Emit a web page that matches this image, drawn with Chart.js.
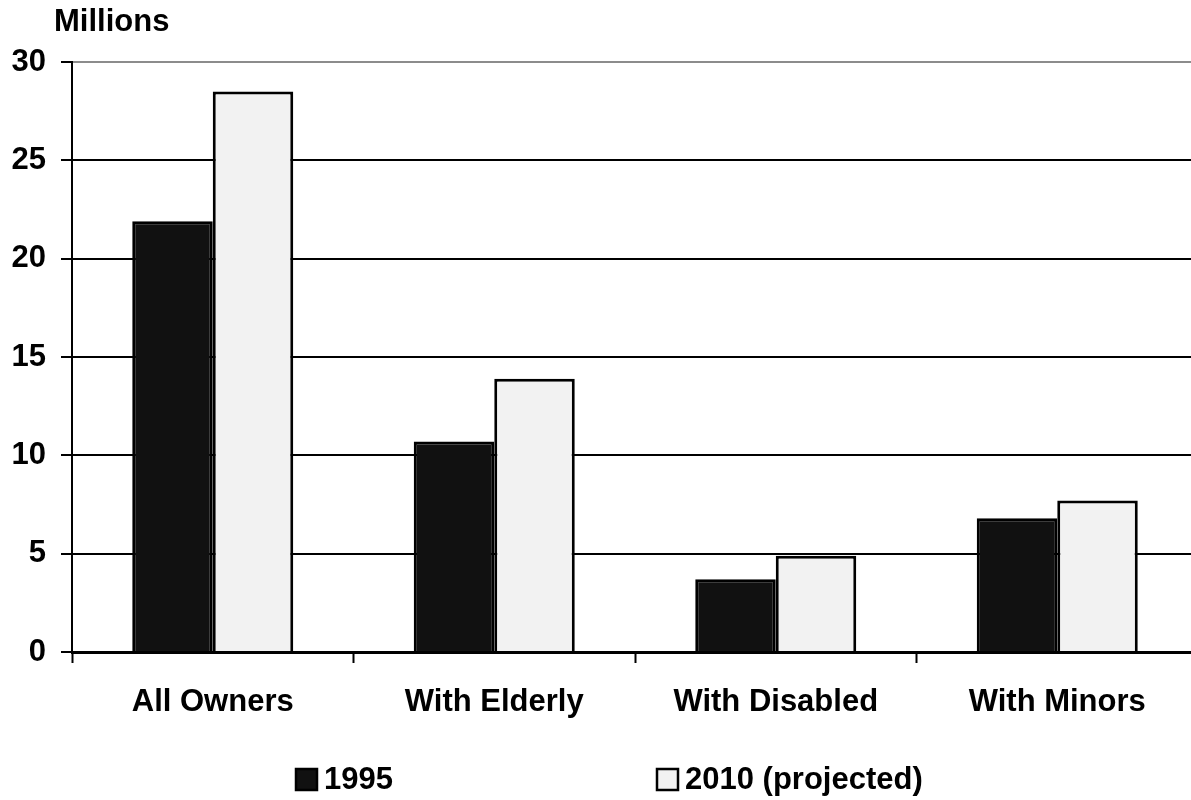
<!DOCTYPE html>
<html>
<head>
<meta charset="utf-8">
<script src="https://cdn.jsdelivr.net/npm/chart.js@4/dist/chart.umd.min.js"></script>
<style>
  html, body { margin: 0; padding: 0; background: #fff; overflow: hidden; }
  #wrap { position: relative; width: 1200px; height: 800px; }
</style>
</head>
<body>
<div id="wrap"><canvas id="c"></canvas></div>
<script>
// Homeowner households, in millions
const categories = ['All Owners', 'With Elderly', 'With Disabled', 'With Minors'];
const values1995 = [21.9, 10.7, 3.7, 6.8];
const values2010 = [28.5, 13.9, 4.9, 7.7];
const seriesLabels = ['1995', '2010 (projected)'];
const yTicks = [0, 5, 10, 15, 20, 25, 30];

const FONT = '"Liberation Sans", Arial, Helvetica, sans-serif';
const fillColors = ['#111111', '#f2f2f2'];

// Unit caption above the value axis and a legend row under the categories
const decorations = {
  id: 'decorations',
  afterDraw(chart) {
    const ctx = chart.ctx;
    ctx.save();
    ctx.fillStyle = '#000';
    ctx.font = 'bold 31px ' + FONT;
    ctx.textBaseline = 'middle';
    ctx.textAlign = 'left';
    ctx.fillText('Millions', 54, 22);

    const items = [
      { x: 296, label: chart.data.datasets[0].label, fill: chart.data.datasets[0].backgroundColor },
      { x: 657, label: chart.data.datasets[1].label, fill: chart.data.datasets[1].backgroundColor }
    ];
    const cy = 779;
    items.forEach(it => {
      ctx.fillStyle = it.fill;
      ctx.fillRect(it.x, cy - 10, 21, 21);
      ctx.strokeStyle = '#000';
      ctx.lineWidth = 2.5;
      ctx.strokeRect(it.x, cy - 10, 21, 21);
      ctx.fillStyle = '#000';
      ctx.font = 'bold 31px ' + FONT;
      ctx.fillText(it.label, it.x + 28, cy + 1);
    });
    ctx.restore();
  }
};

new Chart(document.getElementById('c'), {
  type: 'bar',
  data: {
    labels: categories,
    datasets: [
      {
        label: seriesLabels[0],
        data: values1995,
        backgroundColor: fillColors[0],
        borderColor: '#000',
        borderWidth: 3,
        barPercentage: 1,
        categoryPercentage: 0.572
      },
      {
        label: seriesLabels[1],
        data: values2010,
        backgroundColor: fillColors[1],
        borderColor: '#000',
        borderWidth: 3,
        barPercentage: 1,
        categoryPercentage: 0.572
      }
    ]
  },
  options: {
    responsive: true,
    maintainAspectRatio: false,
    animation: false,
    layout: { padding: { top: 62, right: 2, left: 0, bottom: 0 } },
    plugins: {
      legend: { display: false },
      tooltip: { enabled: false },
      title: { display: false }
    },
    scales: {
      x: {
        offset: true,
        grid: {
          offset: true,
          drawOnChartArea: false,
          drawTicks: true,
          tickLength: 11,
          tickWidth: 2,
          tickColor: '#000'
        },
        border: { display: true, color: '#000', width: 3 },
        ticks: {
          color: '#000',
          padding: 21,
          font: { family: FONT, size: 31, weight: 'bold' },
          maxRotation: 0
        },
        afterFit(scale) { scale.height = 148; }
      },
      y: {
        min: 0,
        max: 30,
        afterBuildTicks(scale) { scale.ticks = yTicks.map(v => ({ value: v })); },
        grid: {
          color: ctx => (ctx.tick && ctx.tick.value === 30 ? '#8c8c8c' : '#000'),
          lineWidth: 2,
          drawTicks: true,
          tickLength: 11,
          tickColor: '#000'
        },
        border: { display: true, color: '#000', width: 2 },
        ticks: {
          color: '#000',
          padding: 15,
          font: { family: FONT, size: 31, weight: 'bold' }
        },
        afterFit(scale) { scale.width = 72; }
      }
    }
  },
  plugins: [decorations]
});
</script>
</body>
</html>
